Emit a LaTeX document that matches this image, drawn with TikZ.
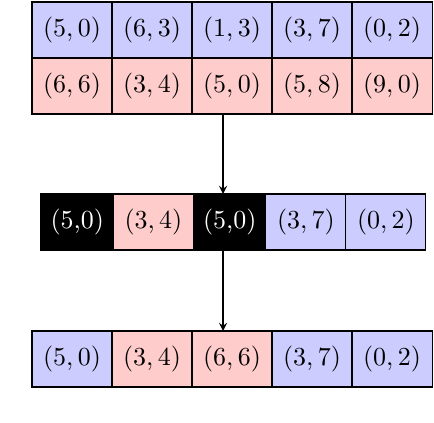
\documentclass[tikz,border=0pt]{standalone}
\usetikzlibrary{positioning}
\usepackage{xcolor}
\colorlet{lightBlue}{blue!20}
\colorlet{lightRed}{red!20}

\begin{document}
\begin{tikzpicture}[
  x=0.385pt, y=0.385pt, node distance=0pt,
  cell/.style={draw, minimum width=30.8pt, minimum height=21.56pt, inner sep=0pt, outer sep=0pt},
  blueCell/.style={cell, fill=lightBlue},
  redCell/.style={cell, fill=lightRed},
  darkCell/.style={cell, fill=black, text=white, minimum width=27.9pt}
]
  \useasboundingbox (0,0) rectangle (434,-422);

  % top: two rows
  \node[blueCell, anchor=north west] (t1) at (32,-2) {$(5,0)$};
  \node[blueCell, right=of t1] (t2) {$(6,3)$};
  \node[blueCell, right=of t2] (t3) {$(1,3)$};
  \node[blueCell, right=of t3] (t4) {$(3,7)$};
  \node[blueCell, right=of t4] (t5) {$(0,2)$};

  \node[redCell, below=of t1] (s1) {$(6,6)$};
  \node[redCell, right=of s1] (s2) {$(3,4)$};
  \node[redCell, right=of s2] (s3) {$(5,0)$};
  \node[redCell, right=of s3] (s4) {$(5,8)$};
  \node[redCell, right=of s4] (s5) {$(9,0)$};

  % middle
  \node[darkCell, anchor=north west] (m1) at (41,-194) {(5,0)};
  \node[redCell, right=of m1] (m2) {$(3,4)$};
  \node[darkCell, right=of m2] (m3) {(5,0)};
  \node[blueCell, right=of m3] (m4) {$(3,7)$};
  \node[blueCell, right=of m4] (m5) {$(0,2)$};

  % bottom
  \node[blueCell, anchor=north west] (b1) at (32,-331) {$(5,0)$};
  \node[redCell, right=of b1] (b2) {$(3,4)$};
  \node[redCell, right=of b2] (b3) {$(6,6)$};
  \node[blueCell, right=of b3] (b4) {$(3,7)$};
  \node[blueCell, right=of b4] (b5) {$(0,2)$};

  \coordinate (drop) at (223,0);
  \draw[-stealth] (drop |- s3.south) -- (drop |- m3.north);
  \draw[-stealth] (drop |- m3.south) -- (drop |- b3.north);
\end{tikzpicture}
\end{document}
